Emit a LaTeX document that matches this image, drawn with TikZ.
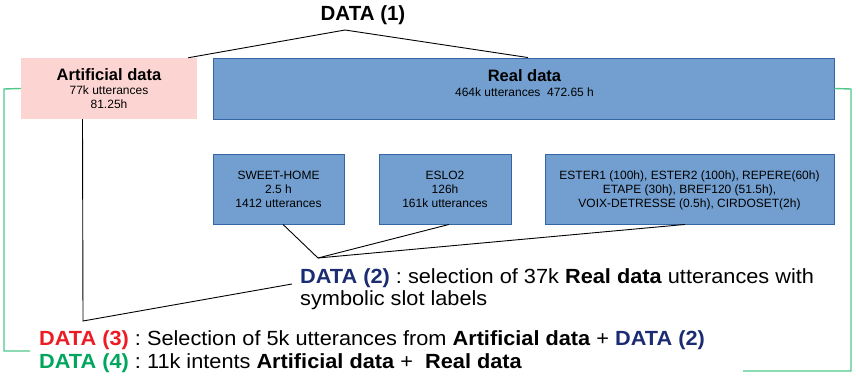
\documentclass[tikz,border=0pt]{standalone}
\usepackage{fontspec}
\setmainfont{Liberation Sans}
\newfontfamily\widefont[FakeStretch=1.06]{Liberation Sans}
\frenchspacing
\definecolor{pinkfill}{HTML}{FCD5D3}
\definecolor{bluefill}{HTML}{729FCF}
\definecolor{blueedge}{HTML}{3465A4}
\definecolor{redtxt}{HTML}{ED1C24}
\definecolor{greentxt}{HTML}{00A65D}
\definecolor{navytxt}{HTML}{1C2C72}
\definecolor{greenline}{HTML}{4FC88C}
\tikzset{
  artbox/.style={fill=pinkfill, draw=none, inner sep=0pt},
  bluebox/.style={fill=bluefill, draw=blueedge, line width=0.9pt, inner sep=0pt},
  small/.style={font=\fontsize{12}{14}\selectfont, anchor=base, inner sep=0pt},
  titletxt/.style={font=\fontsize{16.5}{19}\selectfont\bfseries, anchor=base, inner sep=0pt},
  bigtxt/.style={font=\widefont\fontsize{20.5}{23}\selectfont\frenchspacing, anchor=base west, inner sep=0pt},
  conn/.style={draw=black, line width=0.9pt},
  gconn/.style={draw=greenline, line width=1.4pt},
}
\begin{document}
\begin{tikzpicture}[x=1pt, y=-1pt]
\useasboundingbox (0,0) rectangle (856,377);
% top label
\node[font=\fontsize{20.5}{23}\selectfont\bfseries, anchor=base, inner sep=0pt] (d1) at (363,21) {DATA (1)};
\coordinate (apex) at (345,30);
% boxes
\node[artbox, minimum width=176pt, minimum height=61pt] (art) at (109,88.5) {};
\node[bluebox, minimum width=621pt, minimum height=61pt] (real) at (523.5,88.5) {};
\node[bluebox, minimum width=131pt, minimum height=70pt] (sh) at (278.5,189) {};
\node[bluebox, minimum width=132pt, minimum height=70pt] (eslo) at (445,189) {};
\node[bluebox, minimum width=289pt, minimum height=70pt] (big) at (689.5,189) {};
% box texts
\node[titletxt] (artt) at (109,81) {Artificial data};
\node[small] (arta) at (109,94.7) {77k utterances};
\node[small] (artb) at (109,108.5) {81.25h};
\node[titletxt] (realt) at (524.5,82) {Real data};
\node[small] (reala) at (524.5,97) {464k utterances\ \ 472.65 h};
\node[small] (sha) at (278.5,179) {SWEET-HOME};
\node[small] (shb) at (278.5,193) {2.5 h};
\node[small] (shc) at (278.5,207) {1412 utterances};
\node[small] (esa) at (445,179) {ESLO2};
\node[small] (esb) at (445,193) {126h};
\node[small] (esc) at (445,207) {161k utterances};
\node[small] (bga) at (689.5,179) {ESTER1 (100h), ESTER2 (100h), REPERE(60h)};
\node[small] (bgb) at (689.5,193) {ETAPE (30h), BREF120 (51.5h),};
\node[small] (bgc) at (689.5,207) {VOIX-DETRESSE (0.5h), CIRDOSET(2h)};
% DATA (1) connectors
\draw[conn] ([xshift=79pt]art.north) -- (apex) -- ([xshift=4.5pt]real.north);
% DATA (2)
\coordinate (c2) at (318,258);
\draw[conn] ([xshift=4.5pt]sh.south) -- (c2);
\draw[conn] ([xshift=4pt]eslo.south) -- (c2);
\draw[conn] ([xshift=-4.5pt]big.south) -- (c2);
\node[bigtxt] (d2a) at (300,283) {\textcolor{navytxt}{\bfseries DATA (2)} : selection of 37k \textbf{Real data} utterances with};
\node[bigtxt] (d2b) at (300,305) {symbolic slot labels};
% DATA (3)
\coordinate (c3) at (83,321);
\coordinate (c3b) at (292,284);
\draw[conn] ([xshift=-26.5pt]art.south) -- (c3) -- (c3b);
\node[bigtxt] (d3) at (39,345) {\textcolor{redtxt}{\bfseries DATA (3)} : Selection of 5k utterances from \textbf{Artificial data} + \textcolor{navytxt}{\bfseries DATA (2)}};
\node[bigtxt] (d4) at (39,368) {\textcolor{greentxt}{\bfseries DATA (4)} : 11k intents \textbf{Artificial data} +\ \ \textbf{Real data}};
% green connectors
\coordinate (gl1) at (4,89);
\coordinate (gl2) at (4,351);
\coordinate (gl3) at (30,351);
\draw[gconn] (art.west) -- (gl1) -- (gl2) -- (gl3);
\coordinate (gr1) at (851,89);
\coordinate (gr2) at (851,371);
\coordinate (gr3) at (743,371);
\draw[gconn] (real.east) -- (gr1) -- (gr2) -- (gr3);
\end{tikzpicture}
\end{document}
